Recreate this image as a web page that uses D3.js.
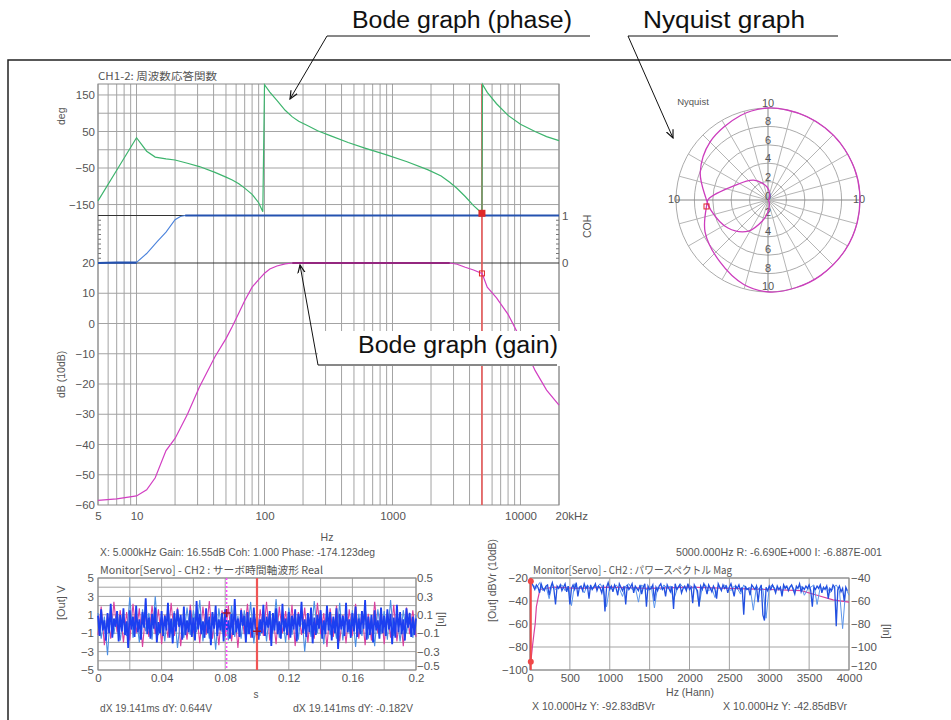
<!DOCTYPE html>
<html>
<head>
<meta charset="utf-8">
<script src="https://cdn.jsdelivr.net/npm/d3@7"></script>
<style>
  body { margin: 0; background: #fff; }
  svg { display: block; }
  text { font-family: "Liberation Sans", Arial, sans-serif; }
  .jp { font-family: "Noto Sans CJK JP", "Liberation Sans", sans-serif; }
</style>
</head>
<body>
<svg id="chart" width="951" height="720"></svg>
<script>
// ---- Bode / Nyquist data (freq Hz, gain dB, phase deg) ----
var bodeFreq  = [5,7,10,12,14,17,20,25,31,41,50,56,63,70,80,90,97,100,110,125,145,165,185,220,260,330,450,600,900,1300,1900,2400,2800,3200,3700,4300,5000,5050,5500,6500,8000,10000,13000,16000,20000];
var bodeGain  = [-58.5,-58,-57,-55,-51,-42,-38,-30,-21,-11,-5,-1,3.5,7.5,12,14.5,16,16.6,18,19,19.7,20,20,20,20,20,20,20,20,20,20,20,20,19.6,18.6,17.7,16.55,16.2,12,8.5,3,-5,-15.5,-22,-27];
var bodePhase = [-140,-56,33,-4,-20,-25,-28,-37,-46,-62,-75,-83,-93,-105,-122,-145,-170,178,158,135,108,90,78,65,52,38,20,5,-14,-33,-55,-72,-89,-106,-128,-153,-174,179,157,126,94,70,50,36,25];
var cohFreq = [5,7,10,12,14.5,17,20,22,24,20000];
var cohVal  = [0,0.01,0.01,0.2,0.45,0.65,0.91,0.98,1,1];
var cursorFreq = 5000;

var freqTicks = [5,10,100,1000,10000,20000];
var phaseTicks = [150,50,-50,-150];
var phaseGrid = [150,100,50,0,-50,-100,-150];
var gainTicks = [20,10,0,-10,-20,-30,-40,-50,-60];
var cohTicks = [0,1];
var nyqRings = [2,4,6,8,10];

// ---- time waveform (V), blue sampled every 1 ms, light blue / magenta every 2 ms ----
var timeStepBlue = 0.001, timeStepOther = 0.002;
var timeBlue = [
 0.9,-1.3,1.6,-0.7,0.4,-1.8,1.2,-1.0,2.2,-1.5,0.6,-0.3,1.4,-1.9,1.0,-0.8,1.7,-1.2,0.3,-2.6,
 1.5,-0.6,0.8,-1.4,2.0,-0.9,0.5,-1.7,1.3,-0.4,2.8,-1.1,0.7,-1.6,1.1,-0.5,1.8,-2.0,0.2,-1.0,
 1.4,-1.3,0.9,-0.7,2.3,-1.5,0.6,-2.1,1.2,-0.8,1.6,-0.3,1.0,-1.7,1.9,-1.2,0.4,-0.9,1.5,-1.4,
 0.7,-1.8,2.5,-0.6,1.1,-1.1,0.3,-1.5,1.7,-1.0,0.8,-2.3,1.3,-0.5,2.0,-1.3,0.5,-0.7,1.2,-1.9,
 1.6,-0.8,0.4,-1.6,1.1,-1.2,2.7,-0.9,0.6,-1.4,1.5,-0.2,0.9,-2.0,1.3,-1.1,0.7,-1.5,1.8,-0.6,
 1.0,-1.7,0.5,-1.0,2.1,-1.3,0.8,-0.4,1.4,-2.4,1.2,-0.7,1.7,-1.1,0.3,-1.6,2.2,-0.8,0.6,-1.2,
 1.3,-1.5,0.9,-0.6,1.6,-1.9,1.1,-0.3,2.4,-1.0,0.5,-1.4,1.2,-0.9,1.8,-2.1,0.7,-1.2,1.0,-0.5,
 1.5,-1.6,0.4,-1.1,2.0,-0.7,1.3,-1.8,0.8,-1.0,1.7,-2.7,1.1,-0.6,0.9,-1.3,2.3,-0.9,0.5,-1.5,
 1.2,-0.8,1.9,-1.4,0.6,-1.1,1.4,-0.5,2.6,-1.7,0.8,-1.2,1.0,-2.0,1.5,-0.7,0.4,-1.6,1.8,-1.0,
 0.9,-1.3,1.6,-0.6,1.1,-2.2,0.7,-1.5,2.1,-0.9,1.3,-1.1,0.5,-1.8,1.7,-0.4,1.2,-1.4,0.8,-1.2,0.6];
var timeLight = [
 1.2,-1.6,0.8,-3.4,1.9,-1.1,1.4,-1.8,0.9,-1.3,2.9,-1.5,1.0,-2.0,1.6,-0.8,1.2,-1.7,3.0,-1.2,
 0.9,-1.9,1.7,-1.0,1.4,-2.6,0.8,-1.5,1.8,-1.2,1.5,-0.9,2.6,-1.9,1.1,-1.6,1.3,-2.8,1.7,-0.9,
 1.2,-1.8,2.0,-1.4,0.9,-1.6,1.5,-1.1,2.4,-2.1,1.0,-1.3,1.6,-1.9,1.4,-1.0,2.7,-1.5,0.8,-2.0,
 1.8,-1.2,1.2,-1.7,1.5,-3.0,1.0,-1.4,2.5,-1.0,1.3,-2.2,1.7,-1.2,0.7,-1.6,2.3,-1.8,1.3,-0.9,
 1.5,-2.5,1.1,-1.3,1.9,-1.6,0.9,-2.4,1.6,-1.1,1.4,-1.7,2.6,-1.3,1.0,-1.9,1.5,-1.0,1.2,-1.5,1.0];
var timeMag = [
 -1.2,1.9,-2.3,1.1,-1.6,2.4,-0.9,1.5,-2.0,1.3,-1.8,2.2,-1.0,1.7,-2.5,1.2,-1.4,2.0,-1.1,1.6,
 -2.2,1.0,-1.5,2.3,-1.3,1.8,-2.4,0.9,-1.7,2.1,-1.0,1.4,-2.1,1.9,-1.2,2.5,-1.6,1.1,-2.3,1.5,
 -1.4,2.0,-1.9,1.2,-2.6,1.7,-1.1,2.2,-1.5,1.0,-2.0,1.6,-1.3,2.4,-1.8,1.1,-2.2,1.9,-1.0,1.4,
 -1.7,2.1,-2.4,1.3,-1.2,1.8,-2.0,1.5,-1.6,2.3,-1.1,1.2,-2.5,1.7,-1.4,2.0,-1.9,1.0,-2.1,1.6,
 -1.3,2.2,-1.6,1.4,-2.3,1.1,-1.8,2.4,-1.0,1.7,-2.2,1.3,-1.5,2.1,-1.9,1.2,-2.4,1.8,-1.1,1.5,-1.4];
var timeCursorT = [0.0809, 0.1];
var timeCursorV = [1.2, -0.8];
var timeTicks = [0,0.04,0.08,0.12,0.16,0.2];
var voltTicks = [5,3,1,-1,-3,-5];
var voltTicksR = [0.5,0.3,0.1,-0.1,-0.3,-0.5];

// ---- power spectrum (dBVr): dark blue every 20 Hz from 20 Hz, light blue every 40 Hz from 40 Hz ----
var specStart = 20, specStep = 20;
var specBlue = [
 -24,-27,-30,-26,-28,-33,-25,-29,-31,-27,-26,-35,-28,-24,-30,-43,-27,-29,-26,-31,
 -28,-25,-32,-27,-43,-29,-26,-30,-24,-36,-28,-27,-31,-25,-29,-27,-38,-26,-30,-28,
 -25,-31,-27,-29,-33,-26,-49,-28,-24,-30,-27,-32,-26,-29,-35,-25,-28,-31,-27,-43,
 -26,-30,-28,-25,-33,-27,-29,-31,-26,-34,-28,-25,-45,-27,-30,-29,-26,-40,-28,-31,
 -27,-25,-30,-28,-36,-26,-29,-32,-27,-47,-25,-30,-28,-26,-33,-29,-27,-31,-25,-30,
 -28,-42,-26,-29,-31,-45,-27,-30,-25,-28,-34,-26,-29,-32,-27,-30,-38,-25,-28,-31,
 -26,-29,-27,-33,-28,-25,-30,-36,-27,-29,-26,-31,-28,-52,-27,-30,-29,-35,-26,-28,
 -30,-27,-41,-29,-26,-52,-57,-28,-31,-27,-30,-26,-29,-33,-27,-30,-28,-36,-26,-29,
 -27,-31,-28,-26,-30,-34,-27,-29,-25,-32,-28,-30,-27,-29,-26,-31,-45,-28,-30,-27,
 -29,-26,-33,-28,-30,-27,-38,-29,-31,-26,-28,-62,-30,-27,-32,-29,-40,-28,-31];
var specLightStart = 40, specLightStep = 40;
var specLight = [
 -26,-29,-24,-31,-27,-38,-25,-30,-28,-26,-31,-27,-44,-25,-29,-28,-33,-26,-30,-27,
 -28,-25,-30,-45,-27,-31,-26,-29,-36,-27,-25,-30,-28,-41,-26,-29,-31,-27,-46,-28,
 -30,-26,-29,-27,-39,-31,-25,-28,-30,-26,-29,-27,-44,-28,-26,-31,-29,-37,-27,-30,
 -26,-28,-31,-27,-29,-34,-26,-30,-28,-48,-27,-31,-29,-55,-28,-26,-30,-29,-32,-27,
 -29,-26,-31,-28,-27,-35,-30,-28,-26,-43,-28,-30,-27,-33,-29,-26,-31,-64,-29,-35];
var specMagFreq = [0,10,30,50,65,80,100,125,300,600,1000,1500,2000,2500,3000,3400,3600,3800,4000];
var specMagVal  = [-95,-93,-80,-68,-60,-45,-38,-30,-28,-29,-28,-29,-28,-29,-30,-31,-35,-39,-41];
var specCursorF = 10;
var specCursorOut = -92.83, specCursorIn = -42.85;
var specTicksX = [0,500,1000,1500,2000,2500,3000,3500,4000];
var specTicksL = [-20,-40,-60,-80,-100];
var specTicksR = [-40,-60,-80,-100,-120];

(function () {
    'use strict';

    var svg = d3.select('#chart');
    var gridC = '#a3a3a3', txtC = '#555';

    function axisStyle(sel, size) {
        sel.attr('font-family', 'Liberation Sans, Arial, sans-serif').attr('font-size', size || 11);
        sel.select('.domain').remove();
        sel.selectAll('.tick line').remove();
        sel.selectAll('.tick text').attr('fill', txtC);
    }
    function label(x, y, str, opt) {
        opt = opt || {};
        var t = svg.append('text').attr('x', x).attr('y', y).text(str)
            .attr('fill', opt.fill || txtC).attr('font-size', opt.size || 11)
            .attr('text-anchor', opt.anchor || 'start').attr('dominant-baseline', 'middle');
        if (opt.cls) t.attr('class', opt.cls);
        if (opt.rot) t.attr('transform', 'rotate(' + opt.rot + ',' + x + ',' + y + ')');
        if (opt.len) t.attr('textLength', opt.len).attr('lengthAdjust', 'spacingAndGlyphs');
        return t;
    }

    // outer frame
    svg.append('path').attr('d', 'M8,720V60H951').attr('fill', 'none')
        .attr('stroke', '#222').attr('stroke-width', 1.5);

    // ================= Bode =================
    var x = d3.scaleLog().domain([5, 20000]).range([98, 559]);
    var yPhase = d3.scaleLinear().domain([-180, 180]).range([215.5, 84]);
    var yCoh = d3.scaleLinear().domain([0, 1]).range([263, 215.5]);
    var yGain = d3.scaleLinear().domain([-60, 20]).range([505, 263]);

    var grid = svg.append('g').attr('stroke', gridC).attr('stroke-width', 1);
    grid.selectAll('line.v').data(x.ticks()).join('line')
        .attr('x1', x).attr('x2', x).attr('y1', 84).attr('y2', 505);
    grid.selectAll('line.p').data(phaseGrid).join('line')
        .attr('x1', 98).attr('x2', 559).attr('y1', yPhase).attr('y2', yPhase);
    grid.selectAll('line.g').data(gainTicks.slice(1, -1)).join('line')
        .attr('x1', 98).attr('x2', 559).attr('y1', yGain).attr('y2', yGain);
    svg.append('rect').attr('x', 98).attr('y', 84).attr('width', 461).attr('height', 421)
        .attr('fill', 'none').attr('stroke', '#8a8a8a');
    // section separators
    svg.append('line').attr('x1', 98).attr('x2', 559).attr('y1', yPhase(-180)).attr('y2', yPhase(-180)).attr('stroke', '#333');
    svg.append('line').attr('x1', 98).attr('x2', 559).attr('y1', yGain(20)).attr('y2', yGain(20)).attr('stroke', '#333');
    // coherence minor ticks
    var cohMinor = d3.range(1, 10).map(function (d) { return d / 10; });
    svg.append('g').attr('stroke', '#777').selectAll('line').data(cohMinor).join('line')
        .attr('x1', 98).attr('x2', 101).attr('y1', yCoh).attr('y2', yCoh);
    svg.append('g').attr('stroke', '#777').selectAll('line').data(cohMinor).join('line')
        .attr('x1', 556).attr('x2', 559).attr('y1', yCoh).attr('y2', yCoh);

    var pts = bodeFreq.map(function (f, i) { return {f: f, g: bodeGain[i], p: bodePhase[i]}; });
    var coh = cohFreq.map(function (f, i) { return {f: f, c: cohVal[i]}; });

    // red cursor
    svg.append('line').attr('x1', x(cursorFreq)).attr('x2', x(cursorFreq)).attr('y1', 84).attr('y2', 505)
        .attr('stroke', '#e85a5a').attr('stroke-width', 1.6);

    // phase
    svg.append('path').datum(pts).attr('fill', 'none').attr('stroke', '#3db46d').attr('stroke-width', 1.2)
        .attr('d', d3.line().x(function (d) { return x(d.f); }).y(function (d) { return yPhase(d.p); }));
    // coherence
    var cohLine = d3.line().x(function (d) { return x(d.f); }).y(function (d) { return yCoh(d.c); });
    svg.append('path').datum(coh).attr('fill', 'none').attr('stroke', '#4a82dc').attr('stroke-width', 1.1).attr('d', cohLine);
    svg.append('path').datum(coh).attr('fill', 'none').attr('stroke', '#2452b0').attr('stroke-width', 2.2)
        .attr('d', cohLine.defined(function (d) { return d.c <= 0.01 || d.c >= 0.99; }));
    // gain
    var gainLine = d3.line().x(function (d) { return x(d.f); }).y(function (d) { return yGain(d.g); });
    svg.append('path').datum(pts).attr('fill', 'none').attr('stroke', '#d23ec2').attr('stroke-width', 1.2).attr('d', gainLine);
    svg.append('path').datum(pts).attr('fill', 'none').attr('stroke', '#94277f').attr('stroke-width', 2)
        .attr('d', gainLine.defined(function (d) { return d.g >= 20; }));

    // cursor markers
    var cur = pts[bodeFreq.indexOf(cursorFreq)];
    svg.append('rect').attr('x', x(cur.f) - 3.5).attr('y', yPhase(cur.p) - 3.5).attr('width', 7).attr('height', 7).attr('fill', '#e02828');
    svg.append('rect').attr('x', x(cur.f) - 2.5).attr('y', yGain(cur.g) - 2.5).attr('width', 5).attr('height', 5)
        .attr('fill', 'none').attr('stroke', '#e02828');

    // axes
    svg.append('g').attr('transform', 'translate(98,0)')
        .call(d3.axisLeft(yPhase).tickValues(phaseTicks).tickSize(0).tickPadding(3)).call(axisStyle, 11.5);
    svg.append('g').attr('transform', 'translate(98,0)')
        .call(d3.axisLeft(yGain).tickValues(gainTicks).tickSize(0).tickPadding(3)).call(axisStyle, 11.5);
    svg.append('g').attr('transform', 'translate(559,0)')
        .call(d3.axisRight(yCoh).tickValues(cohTicks).tickSize(0).tickPadding(3).tickFormat(d3.format('d')))
        .call(axisStyle, 11.5);
    var xa = svg.append('g').attr('transform', 'translate(0,505)')
        .call(d3.axisBottom(x).tickValues(freqTicks).tickSize(0).tickPadding(7)
            .tickFormat(function (d) { return d === 20000 ? '20kHz' : String(d); }))
        .call(axisStyle, 11.5);
    xa.selectAll('.tick text').filter(function (d) { return d === 20000; }).attr('text-anchor', 'start').attr('x', -4);

    label(98, 77, 'CH1-2: 周波数応答関数', {cls: 'jp', size: 10.5, len: 119});
    label(62, 125, 'deg', {rot: -90, size: 10.5});
    label(62, 398, 'dB (10dB)', {rot: -90, size: 10.5});
    label(588, 238, 'COH', {rot: -90, size: 10.5});
    label(327, 538, 'Hz', {size: 10.5, anchor: 'middle'});
    label(100, 553, 'X: 5.000kHz  Gain: 16.55dB Coh: 1.000 Phase: -174.123deg', {size: 10.5, len: 275});
    label(676, 553, '5000.000Hz   R: -6.690E+000   I: -6.887E-001', {size: 10.5, len: 206});

    // ================= Nyquist =================
    var cx = 768, cy = 200;
    var r = d3.scaleLinear().domain([0, 10]).range([0, 92]);
    var ng = svg.append('g');
    ng.selectAll('circle').data(nyqRings).join('circle')
        .attr('cx', cx).attr('cy', cy).attr('r', r).attr('fill', 'none').attr('stroke', '#ababab');
    ng.selectAll('line').data(d3.range(0, 360, 15)).join('line')
        .attr('x1', cx).attr('y1', cy)
        .attr('x2', function (a) { return cx + r(10) * Math.cos(a * Math.PI / 180); })
        .attr('y2', function (a) { return cy - r(10) * Math.sin(a * Math.PI / 180); })
        .attr('stroke', function (a) { return a % 90 === 0 ? '#888' : '#b5b5b5'; });
    nyqRings.forEach(function (v) {
        label(cx, cy - r(v) - 4, String(v), {anchor: 'middle', size: 11});
        label(cx, cy + r(v) - 5, String(v), {anchor: 'middle', size: 11});
    });
    label(cx, cy - 3, '0', {anchor: 'middle', size: 11});
    label(cx - r(10) - 2, cy, '10', {anchor: 'middle', size: 11});
    label(cx + r(10) - 1, cy, '10', {anchor: 'middle', size: 11});
    label(693, 102, 'Nyquist', {anchor: 'middle', size: 9.5});

    function nyX(d) { return cx + r(Math.pow(10, d.g / 20) * Math.cos(d.p * Math.PI / 180)); }
    function nyY(d) { return cy - r(Math.pow(10, d.g / 20) * Math.sin(d.p * Math.PI / 180)); }
    svg.append('path').datum(pts).attr('fill', 'none').attr('stroke', '#cc3dbd').attr('stroke-width', 1.3)
        .attr('d', d3.line().x(nyX).y(nyY).curve(d3.curveCatmullRom.alpha(0.5)));
    svg.append('rect').attr('x', nyX(cur) - 2.5).attr('y', nyY(cur) - 2.5).attr('width', 5).attr('height', 5)
        .attr('fill', 'none').attr('stroke', '#e02828');

    // ================= time waveform =================
    var xT = d3.scaleLinear().domain([0, 0.2]).range([98, 416]);
    var yT = d3.scaleLinear().domain([-5, 5]).range([670, 578]);
    var yTr = d3.scaleLinear().domain([-0.5, 0.5]).range([670, 578]);
    var tg = svg.append('g').attr('stroke', gridC);
    tg.selectAll('line.v').data(xT.ticks(10)).join('line')
        .attr('x1', xT).attr('x2', xT).attr('y1', 578).attr('y2', 670);
    tg.selectAll('line.h').data(yT.ticks(10)).join('line')
        .attr('x1', 98).attr('x2', 416).attr('y1', yT).attr('y2', yT);
    svg.append('rect').attr('x', 98).attr('y', 578).attr('width', 318).attr('height', 92)
        .attr('fill', 'none').attr('stroke', '#8a8a8a');

    function wave(data, step, color, w) {
        svg.append('path').datum(data).attr('fill', 'none').attr('stroke', color).attr('stroke-width', w)
            .attr('d', d3.line().x(function (d, i) { return xT(i * step); }).y(function (d) { return yT(d); }));
    }
    wave(timeMag, timeStepOther, '#d8409e', 1.1);
    wave(timeLight, timeStepOther, '#4b8ee4', 1.1);
    wave(timeBlue, timeStepBlue, '#1c3ff0', 1.8);

    svg.append('line').attr('x1', xT(timeCursorT[0])).attr('x2', xT(timeCursorT[0])).attr('y1', 578).attr('y2', 670)
        .attr('stroke', '#ff44ff').attr('stroke-width', 1.5).attr('stroke-dasharray', '2,2');
    svg.append('line').attr('x1', xT(timeCursorT[1])).attr('x2', xT(timeCursorT[1])).attr('y1', 578).attr('y2', 670)
        .attr('stroke', '#f05555').attr('stroke-width', 2.2);
    svg.append('g').selectAll('path').data(timeCursorT).join('path')
        .attr('d', function (t, i) {
            var px = xT(t), py = yT(timeCursorV[i]);
            return 'M' + (px - 4) + ',' + py + 'H' + (px + 4) + 'M' + px + ',' + (py - 4) + 'V' + (py + 4);
        })
        .attr('stroke', '#a01030').attr('stroke-width', 1.5);

    svg.append('g').attr('transform', 'translate(98,0)')
        .call(d3.axisLeft(yT).tickValues(voltTicks).tickSize(0).tickPadding(4)).call(axisStyle, 11.5);
    var tr = svg.append('g').attr('transform', 'translate(416,0)')
        .call(d3.axisRight(yTr).tickValues(voltTicksR).tickSize(0).tickPadding(1)).call(axisStyle, 11.5);
    tr.selectAll('.tick text').filter(function (d) { return d === -0.5; }).attr('dy', '-0.05em');
    svg.append('g').attr('transform', 'translate(0,670)')
        .call(d3.axisBottom(xT).tickValues(timeTicks).tickSize(0).tickPadding(4)
            .tickFormat(function (d) { return String(+d.toFixed(2)); }))
        .call(axisStyle, 11.5);

    label(100, 571, 'Monitor[Servo] - CH2 : サーボ時間軸波形 Real', {cls: 'jp', size: 10.5, len: 223});
    label(62, 620, '[Out] V', {rot: -90, size: 11});
    label(441, 612, '[In]', {rot: 90, size: 10.5});
    label(256, 695, 's', {anchor: 'middle', size: 10});
    label(100, 709, 'dX 19.141ms dY: 0.644V', {size: 10.5, len: 112});
    label(293, 709, 'dX 19.141ms dY: -0.182V', {size: 10.5, len: 120});

    // ================= power spectrum =================
    var xF = d3.scaleLinear().domain([0, 4000]).range([530, 849]);
    var yF = d3.scaleLinear().domain([-100, -20]).range([670, 578]);
    var yFr = d3.scaleLinear().domain([-120, -40]).range([670, 578]);
    var sg = svg.append('g').attr('stroke', gridC);
    sg.selectAll('line.v').data(specTicksX).join('line')
        .attr('x1', xF).attr('x2', xF).attr('y1', 578).attr('y2', 670);
    sg.selectAll('line.h').data(specTicksL).join('line')
        .attr('x1', 530).attr('x2', 849).attr('y1', yF).attr('y2', yF);
    svg.append('rect').attr('x', 530).attr('y', 578).attr('width', 319).attr('height', 92)
        .attr('fill', 'none').attr('stroke', '#8a8a8a');

    svg.append('path').datum(specMagVal).attr('fill', 'none').attr('stroke', '#d8409e').attr('stroke-width', 1.2)
        .attr('d', d3.line().x(function (d, i) { return xF(specMagFreq[i]); }).y(function (d) { return yF(d); }));
    svg.append('path').datum(specLight).attr('fill', 'none').attr('stroke', '#5b95ec').attr('stroke-width', 1)
        .attr('d', d3.line().x(function (d, i) { return xF(specLightStart + i * specLightStep); }).y(function (d) { return yF(d); }));
    svg.append('path').datum(specBlue).attr('fill', 'none').attr('stroke', '#2250e0').attr('stroke-width', 1.3)
        .attr('d', d3.line().x(function (d, i) { return xF(specStart + i * specStep); }).y(function (d) { return yF(d); }));

    svg.append('line').attr('x1', xF(specCursorF)).attr('x2', xF(specCursorF)).attr('y1', 578).attr('y2', 670)
        .attr('stroke', '#f04848').attr('stroke-width', 2);
    svg.append('circle').attr('cx', xF(specCursorF)).attr('cy', yFr(specCursorIn)).attr('r', 3).attr('fill', '#f04848');
    svg.append('circle').attr('cx', xF(specCursorF)).attr('cy', yF(specCursorOut)).attr('r', 3).attr('fill', '#f04848');

    svg.append('g').attr('transform', 'translate(530,0)')
        .call(d3.axisLeft(yF).tickValues(specTicksL).tickSize(0).tickPadding(2)).call(axisStyle, 11.5);
    var sr = svg.append('g').attr('transform', 'translate(849,0)')
        .call(d3.axisRight(yFr).tickValues(specTicksR).tickSize(0).tickPadding(2)).call(axisStyle, 11.5);
    sr.selectAll('.tick text').filter(function (d) { return d === -120; }).attr('dy', '-0.05em');
    svg.append('g').attr('transform', 'translate(0,670)')
        .call(d3.axisBottom(xF).tickValues(specTicksX).tickSize(0).tickPadding(4).tickFormat(d3.format('d')))
        .call(axisStyle, 11.5);

    label(533, 571, 'Monitor[Servo] - CH2 : パワースペクトル Mag', {cls: 'jp', size: 10.5, len: 199});
    label(493, 622, '[Out] dBVr (10dB)', {rot: -90, size: 10.5});
    label(886, 624, '[In]', {rot: 90, size: 10.5});
    label(690, 693, 'Hz (Hann)', {anchor: 'middle', size: 10.5});
    label(532, 707, 'X 10.000Hz Y: -92.83dBVr', {size: 10.5, len: 123});
    label(723, 707, 'X 10.000Hz Y: -42.85dBVr', {size: 10.5, len: 124});

    // ================= callouts =================
    var defs = svg.append('defs');
    defs.append('marker').attr('id', 'arr').attr('viewBox', '0 -5 10 10').attr('refX', 9).attr('refY', 0)
        .attr('markerWidth', 9).attr('markerHeight', 9).attr('orient', 'auto')
        .append('path').attr('d', 'M0,-4L9,0L0,4').attr('fill', 'none').attr('stroke', '#111').attr('stroke-width', 1.3);

    svg.append('rect').attr('x', 318).attr('y', 331).attr('width', 244).attr('height', 35).attr('fill', '#fff');

    var callouts = [
        {text: 'Bode graph (phase)', tx: 352, ty: 22, len: 220, ux1: 327, ux2: 590, uy: 36, ax: 290, ay: 99},
        {text: 'Nyquist graph', tx: 643, ty: 22, len: 162, ux1: 628, ux2: 838, uy: 36, ax: 673, ay: 138},
        {text: 'Bode graph (gain)', tx: 358, ty: 347, len: 200, ux1: 318, ux2: 557, uy: 365, ax: 300, ay: 265}
    ];
    callouts.forEach(function (c) {
        label(c.tx, c.ty, c.text, {fill: '#111', size: 23, len: c.len});
        svg.append('line').attr('x1', c.ux1).attr('x2', c.ux2).attr('y1', c.uy).attr('y2', c.uy).attr('stroke', '#111');
        svg.append('line').attr('x1', c.ux1).attr('y1', c.uy).attr('x2', c.ax).attr('y2', c.ay)
            .attr('stroke', '#111').attr('marker-end', 'url(#arr)');
    });
}());
</script>
</body>
</html>
